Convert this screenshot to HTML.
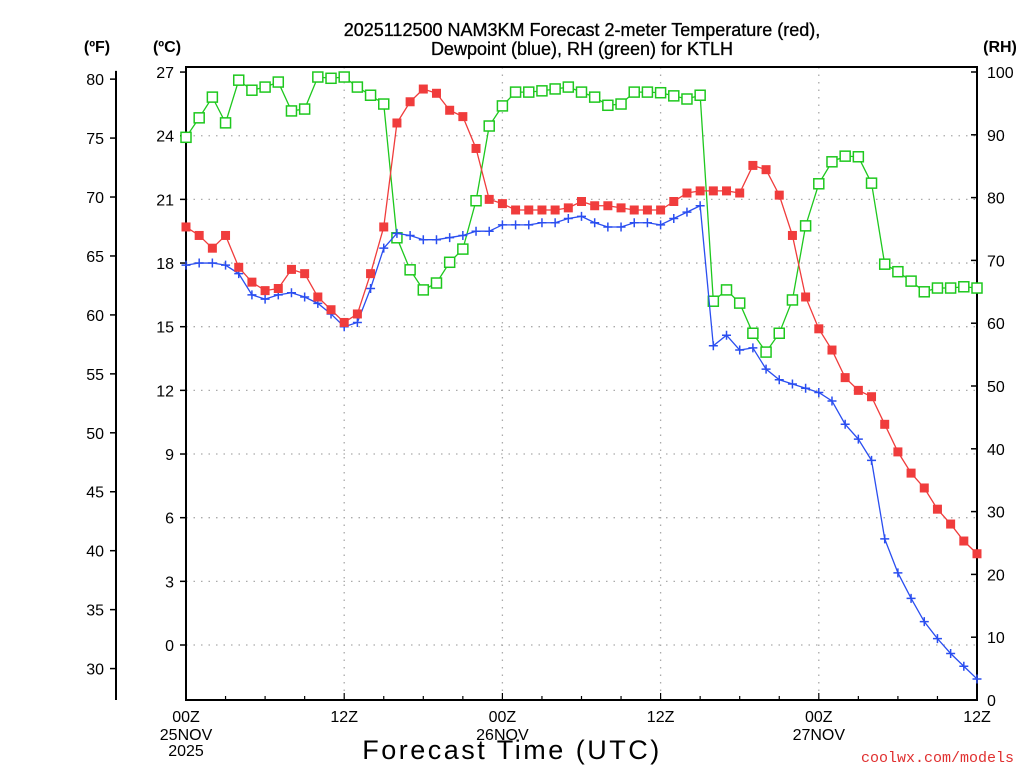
<!DOCTYPE html>
<html><head><meta charset="utf-8"><style>
body{margin:0;background:#fff;}
svg text{font-family:"Liberation Sans",sans-serif;}
</style></head><body>
<svg id="chart" width="1024" height="768" xmlns="http://www.w3.org/2000/svg">
<rect width="1024" height="768" fill="#fff"/>
<g id="grid"></g>
<g id="axes"></g>
<g id="series"></g>
<text x="582" y="36" font-size="18" text-anchor="middle" stroke="#000" stroke-width="0.3">2025112500 NAM3KM Forecast 2-meter Temperature (red),</text>
<text x="582" y="55" font-size="18" text-anchor="middle" stroke="#000" stroke-width="0.3">Dewpoint (blue), RH (green) for KTLH</text>
<text x="97" y="52" font-size="16" font-weight="bold" text-anchor="middle">(ºF)</text>
<text x="167" y="52" font-size="16" font-weight="bold" text-anchor="middle">(ºC)</text>
<text x="1000" y="52" font-size="16" font-weight="bold" text-anchor="middle">(RH)</text>
<text x="512" y="759" font-size="27" text-anchor="middle" letter-spacing="2.5">Forecast Time (UTC)</text>
<text x="1014" y="762" font-size="15" fill="#e03030" text-anchor="end" style="font-family:'Liberation Mono',monospace">coolwx.com/models</text>
</svg>
<script>
const hours = [0,1,2,3,4,5,6,7,8,9,10,11,12,13,14,15,16,17,18,19,20,21,22,23,24,25,26,27,28,29,30,31,32,33,34,35,36,37,38,39,40,41,42,43,44,45,46,47,48,49,50,51,52,53,54,55,56,57,58,59,60];
const tempC = [19.7,19.3,18.7,19.3,17.8,17.1,16.7,16.8,17.7,17.5,16.4,15.8,15.2,15.6,17.5,19.7,24.6,25.6,26.2,26.0,25.2,24.9,23.4,21.0,20.8,20.5,20.5,20.5,20.5,20.6,20.9,20.7,20.7,20.6,20.5,20.5,20.5,20.9,21.3,21.4,21.4,21.4,21.3,22.6,22.4,21.2,19.3,16.4,14.9,13.9,12.6,12.0,11.7,10.4,9.1,8.1,7.4,6.4,5.7,4.9,4.3];
const dewC = [17.9,18.0,18.0,17.9,17.5,16.5,16.3,16.5,16.6,16.4,16.1,15.6,15.0,15.2,16.8,18.7,19.4,19.3,19.1,19.1,19.2,19.3,19.5,19.5,19.8,19.8,19.8,19.9,19.9,20.1,20.2,19.9,19.7,19.7,19.9,19.9,19.8,20.1,20.4,20.7,14.1,14.6,13.9,14.0,13.0,12.5,12.3,12.1,11.9,11.5,10.4,9.7,8.7,5.0,3.4,2.2,1.1,0.3,-0.4,-1.0,-1.6];
const rh = [89.6,92.7,96.0,91.9,98.7,97.1,97.6,98.4,93.8,94.1,99.2,99.0,99.2,97.6,96.3,94.9,73.6,68.5,65.3,66.4,69.7,71.8,79.5,91.4,94.6,96.8,96.8,97.0,97.3,97.6,96.8,96.0,94.7,94.9,96.8,96.8,96.7,96.2,95.7,96.3,63.5,65.3,63.2,58.4,55.4,58.4,63.7,75.5,82.2,85.7,86.6,86.5,82.3,69.4,68.2,66.7,65.0,65.6,65.6,65.8,65.6];
const cTicks = [27,24,21,18,15,12,9,6,3,0];
const fTicks = [80,75,70,65,60,55,50,45,40,35,30];
const rhTicks = [100,90,80,70,60,50,40,30,20,10,0];
const xLabelHours = [0,12,24,36,48,60];
const xLabels = ["00Z","12Z","00Z","12Z","00Z","12Z"];
const xDates = {0:["25NOV","2025"],24:["26NOV"],48:["27NOV"]};

const X0=186,X1=977,Y0=67,Y1=700;
const xs=h=>X0+(X1-X0)*h/60;
const yC=c=>645-c*21.22;
const yF=f=>yC((f-32)/1.8);
const yRH=r=>700-r*6.28;
const NS="http://www.w3.org/2000/svg";
function mk(tag,attrs,parent){const e=document.createElementNS(NS,tag);for(const k in attrs)e.setAttribute(k,attrs[k]);parent.appendChild(e);return e;}
const grid=document.getElementById('grid'),axes=document.getElementById('axes'),ser=document.getElementById('series');

cTicks.forEach(c=>{
  const y=yC(c);
  if(c!==27){const l=mk('line',{x1:X0,x2:X1,y1:y,y2:y,stroke:'#aaa','stroke-width':1.3,'stroke-dasharray':'1.5,6'},grid);
  
  }
  mk('line',{x1:X0-6,x2:X0,y1:y,y2:y,stroke:'#000','stroke-width':1.5},axes);
  const t=mk('text',{x:X0-12,y:y+6,'font-size':16,'text-anchor':'end'},axes);t.textContent=c;
  
  
});
fTicks.forEach(f=>{
  const y=yF(f);
  mk('line',{x1:110,x2:116,y1:y,y2:y,stroke:'#000','stroke-width':1.5},axes);
  const t=mk('text',{x:104,y:y+6,'font-size':16,'text-anchor':'end'},axes);t.textContent=f;
  
  
});
rhTicks.forEach(r=>{
  const y=yRH(r);
  mk('line',{x1:X1-6,x2:X1,y1:y,y2:y,stroke:'#000','stroke-width':1.5},axes);
  const t=mk('text',{x:987,y:y+6,'font-size':16},axes);t.textContent=r;
  
  
});
xLabelHours.forEach((h,i)=>{
  const x=xs(h);
  if(h>0&&h<60){const l=mk('line',{x1:x,x2:x,y1:Y0,y2:Y1,stroke:'#aaa','stroke-width':1.3,'stroke-dasharray':'1.5,6'},grid);
  
  }
  const t=mk('text',{x:x,y:722,'font-size':16,'text-anchor':'middle'},axes);t.textContent=xLabels[i];
  
  
  (xDates[h]||[]).forEach((d,j)=>{const tt=mk('text',{x:x,y:740+j*16,'font-size':16,'text-anchor':'middle'},axes);tt.textContent=d;
  
  });
});
for(let h=0;h<=60;h+=3){const x=xs(h);mk('line',{x1:x,x2:x,y1:Y1,y2:Y1-(h%12?4:7),stroke:'#000','stroke-width':1.2},axes);}
mk('rect',{x:X0,y:Y0,width:X1-X0,height:Y1-Y0,fill:'none',stroke:'#000','stroke-width':2},axes);
mk('line',{x1:116,x2:116,y1:yF(80.7),y2:Y1,stroke:'#000','stroke-width':2},axes);

function series(vals,yf,color,name,marker){
  const pts=vals.map((v,i)=>xs(hours[i])+','+yf(v)).join(' ');
  const pl=mk('polyline',{points:pts,fill:'none',stroke:color,'stroke-width':1.3},ser);
  
  
  vals.forEach((v,i)=>{
    const x=xs(hours[i]),y=yf(v);let m;
    if(marker==='fill')m=mk('rect',{x:x-4.5,y:y-4.5,width:9,height:9,fill:color},ser);
    else if(marker==='open')m=mk('rect',{x:x-5,y:y-5,width:10,height:10,fill:'#fff',stroke:color,'stroke-width':1.5},ser);
    else m=mk('path',{d:`M${x-4.5},${y}H${x+4.5}M${x},${y-4.5}V${y+4.5}`,stroke:color,'stroke-width':1.5},ser);
    
    
  });
}
series(rh,yRH,'#1ec81e','rh','open');
series(dewC,yC,'#2a4ef0','dewpoint','plus');
series(tempC,yC,'#f03c3c','temperature','fill');
</script>
</body></html>
